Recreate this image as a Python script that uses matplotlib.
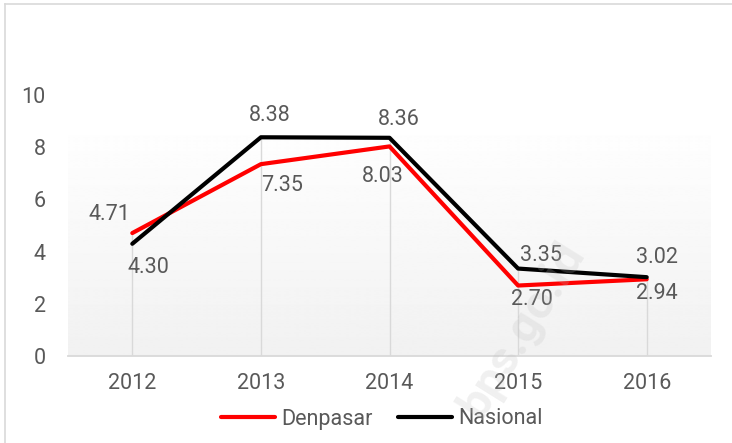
import matplotlib.pyplot as plt
import numpy as np
from matplotlib.lines import Line2D

# data
years = ["2012", "2013", "2014", "2015", "2016"]
denpasar = [4.71, 7.35, 8.03, 2.70, 2.94]
nasional = [4.30, 8.38, 8.36, 3.35, 3.02]

# label offsets in pixels (dx, dy)
off_denpasar = [(-23, 19), (21, -21), (-7, -30), (14, -14), (10, -14)]
off_nasional = [(16, -24), (9, 22), (9, 18), (23, 13), (10, 20)]

plt.rcParams['font.family'] = ['Roboto', 'DejaVu Sans']
txt = '#595959'
fs = 15.5

fig = plt.figure(figsize=(7.32, 4.43), dpi=100)
ax = fig.add_axes([68 / 732, 1 - 356 / 443, 643 / 732, 261 / 443])

x = np.arange(len(years))
ax.set_xlim(-0.5, len(years) - 0.5)
ax.set_ylim(0, 10)

# plot area gradient (white at top -> light gray at bottom)
grad = np.linspace(0.998, 0.945, 256).reshape(-1, 1)
ax.imshow(grad, cmap='gray', vmin=0, vmax=1, aspect='auto',
          extent=(-0.5, len(years) - 0.5, 0, 8.75), zorder=0, interpolation='bilinear')

# drop lines
tops = [max(a, b) for a, b in zip(denpasar, nasional)]
ax.vlines(x, 0, tops, color='#d9d9d9', lw=1.0, zorder=1)

ax.plot(x, denpasar, color='#ff0000', lw=3, label='Denpasar', zorder=3,
        solid_capstyle='round', solid_joinstyle='round')
ax.plot(x, nasional, color='black', lw=3, label='Nasional', zorder=4,
        solid_capstyle='round', solid_joinstyle='round')

for xi, v, o in zip(x, denpasar, off_denpasar):
    ax.annotate(f"{v:.2f}", (xi, v), xytext=o, textcoords='offset pixels',
                ha='center', va='center', fontsize=fs, color=txt, zorder=5)
for xi, v, o in zip(x, nasional, off_nasional):
    ax.annotate(f"{v:.2f}", (xi, v), xytext=o, textcoords='offset pixels',
                ha='center', va='center', fontsize=fs, color=txt, zorder=5)

ax.set_xticks(x)
ax.set_xticklabels(years)
ax.set_yticks(range(0, 11, 2))
ax.tick_params(axis='both', length=0, labelsize=fs, labelcolor=txt)
ax.tick_params(axis='y', pad=16)
ax.tick_params(axis='x', pad=12)
for s in ['top', 'right', 'left']:
    ax.spines[s].set_visible(False)
ax.spines['bottom'].set_color('#d9d9d9')
ax.spines['bottom'].set_linewidth(1.3)
ax.set_facecolor('none')

ax.legend(loc='center', bbox_to_anchor=(382 / 732, 1 - 419 / 443),
          bbox_transform=fig.transFigure, ncol=2, frameon=False,
          fontsize=fs, labelcolor=txt, handlelength=2.5, handletextpad=0.3,
          columnspacing=1.2)

# faint watermark
fig.text(522 / 732, 1 - 330 / 443, "bps.go.id", rotation=58, fontsize=34,
         fontweight='bold', color='#bdbdbd', alpha=0.22, ha='center', va='center')

# chart border (top and left visible)
fig.add_artist(Line2D([4.5 / 732, 4.5 / 732], [0, 1 - 4 / 443], color='#d9d9d9', lw=1.2))
fig.add_artist(Line2D([4.5 / 732, 1], [1 - 4 / 443, 1 - 4 / 443], color='#d9d9d9', lw=1.2))

fig.savefig('out.png', dpi=100)
